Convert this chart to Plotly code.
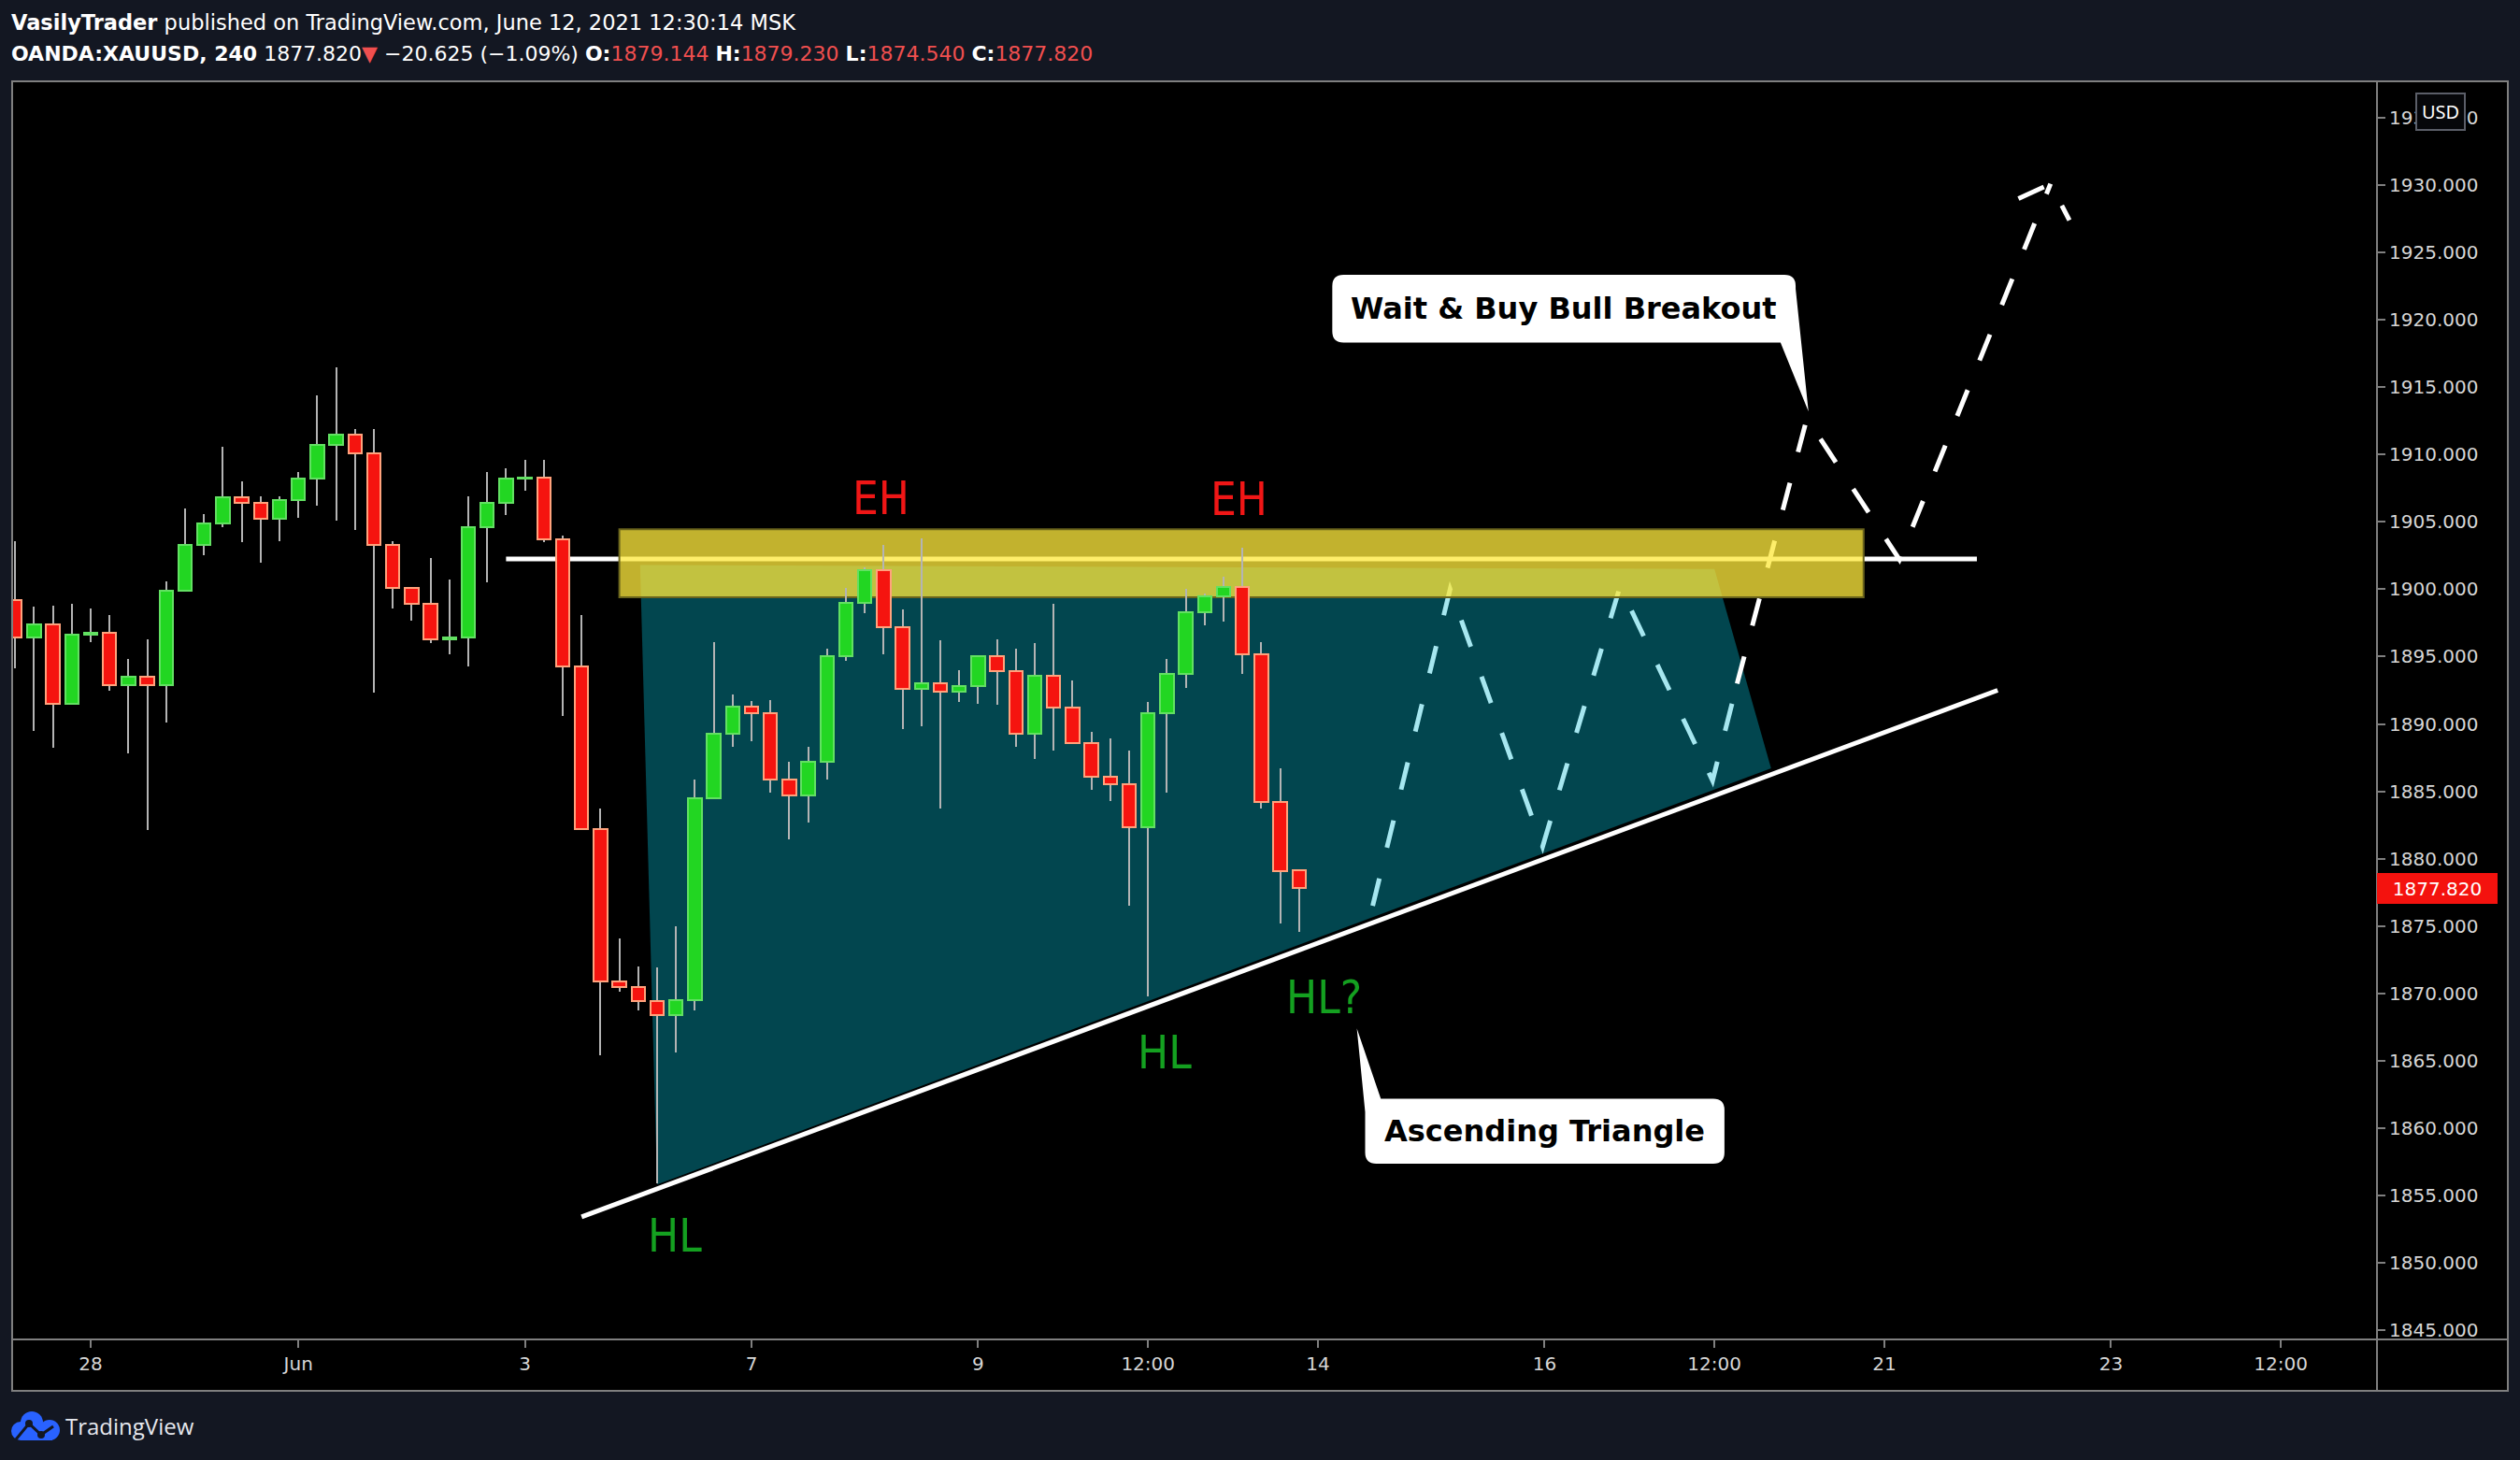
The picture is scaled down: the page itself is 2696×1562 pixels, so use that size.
import plotly.graph_objects as go

# ---------------- data ----------------
bars = list(range(69))
opens = [1899.2, 1896.4, 1897.4, 1891.5, 1896.6, 1896.8, 1892.9, 1893.5, 1892.9, 1899.9,
         1903.3, 1904.9, 1906.8, 1906.4, 1905.2, 1906.6, 1908.2, 1910.7, 1911.5, 1910.1,
         1903.3, 1900.1, 1898.9, 1896.3, 1896.4, 1904.6, 1906.4, 1908.2, 1908.3, 1903.7,
         1894.3, 1882.2, 1870.9, 1870.5, 1869.4, 1868.4, 1869.5, 1884.5, 1889.3, 1891.3,
         1890.8, 1885.9, 1884.7, 1887.2, 1895.0, 1899.0, 1901.4, 1897.2, 1892.6, 1893.0,
         1892.4, 1892.8, 1895.0, 1893.9, 1889.3, 1893.6, 1891.2, 1888.6, 1886.1, 1885.5,
         1882.3, 1890.8, 1893.7, 1898.3, 1899.5, 1900.2, 1895.2, 1884.2, 1879.144]
highs = [1903.6, 1898.7, 1898.8, 1898.9, 1898.6, 1898.1, 1894.8, 1896.3, 1900.6, 1906.0,
         1905.6, 1910.6, 1908.0, 1906.9, 1906.9, 1908.7, 1914.4, 1916.5, 1911.9, 1911.9,
         1903.6, 1900.2, 1902.3, 1900.7, 1906.9, 1908.7, 1909.0, 1909.6, 1909.6, 1904.0,
         1898.1, 1883.7, 1874.1, 1872.0, 1871.9, 1875.0, 1885.9, 1896.1, 1892.2, 1891.7,
         1891.8, 1887.2, 1888.3, 1895.6, 1900.1, 1901.6, 1903.3, 1898.5, 1903.8, 1896.2,
         1894.0, 1895.1, 1896.3, 1895.6, 1896.0, 1898.9, 1893.2, 1889.4, 1888.9, 1888.0,
         1891.6, 1894.8, 1900.0, 1899.7, 1900.9, 1903.1, 1896.1, 1886.7, 1879.23]
lows = [1894.1, 1889.5, 1888.2, 1891.4, 1896.1, 1892.5, 1887.8, 1882.1, 1890.1, 1899.8,
        1902.5, 1904.6, 1903.5, 1902.0, 1903.6, 1905.3, 1906.2, 1905.1, 1904.4, 1892.3,
        1898.6, 1897.7, 1896.0, 1895.2, 1894.3, 1900.5, 1905.5, 1907.3, 1903.5, 1890.6,
        1882.1, 1865.4, 1870.1, 1868.7, 1855.9, 1865.6, 1868.7, 1884.4, 1888.3, 1888.7,
        1884.9, 1881.4, 1882.7, 1885.9, 1894.7, 1898.2, 1895.2, 1889.6, 1889.8, 1883.7,
        1891.6, 1891.5, 1891.4, 1888.3, 1887.4, 1888.0, 1888.5, 1885.1, 1884.3, 1876.5,
        1869.8, 1884.9, 1892.7, 1897.3, 1897.6, 1893.7, 1883.7, 1875.2, 1874.54]
closes = [1896.4, 1897.4, 1891.5, 1896.6, 1896.8, 1892.9, 1893.5, 1892.9, 1899.9, 1903.3,
          1904.9, 1906.8, 1906.4, 1905.2, 1906.6, 1908.2, 1910.7, 1911.5, 1910.1, 1903.3,
          1900.1, 1898.9, 1896.3, 1896.4, 1904.6, 1906.4, 1908.2, 1908.3, 1903.7, 1894.3,
          1882.2, 1870.9, 1870.5, 1869.4, 1868.4, 1869.5, 1884.5, 1889.3, 1891.3, 1890.8,
          1885.9, 1884.7, 1887.2, 1895.0, 1899.0, 1901.4, 1897.2, 1892.6, 1893.0, 1892.4,
          1892.8, 1895.0, 1893.9, 1889.3, 1893.6, 1891.2, 1888.6, 1886.1, 1885.5, 1882.3,
          1890.8, 1893.7, 1898.3, 1899.5, 1900.2, 1895.2, 1884.2, 1879.1, 1877.82]

tick_bars = [4, 15, 27, 39, 51, 60, 69, 81, 90, 99, 111, 120]
tick_labels = ["28", "Jun", "3", "7", "9", "12:00", "14", "16", "12:00", "21", "23", "12:00"]
price_ticks = [1845, 1850, 1855, 1860, 1865, 1870, 1875, 1880, 1885, 1890,
               1895, 1900, 1905, 1910, 1915, 1920, 1925, 1930, 1935]
last_price = 1877.82

# drawings (bar index, price)
resist_x = [26.0, 103.9]
resist_y = [1902.25, 1902.25]
zone_x = [32.0, 97.9]
zone_y = [1899.4, 1904.45]
trend_x = [30.0, 105.0]
trend_y = [1853.4, 1892.5]
tri_x = [33.1, 90.0, 93.0, 34.0]
tri_y = [1901.8, 1901.5, 1886.7, 1855.8]
cyan_x = [71.9, 76.0, 80.9, 85.0, 89.9, 91.2]
cyan_y = [1876.5, 1900.0, 1880.9, 1900.2, 1885.8, 1893.0]
path_x = [91.2, 94.9, 99.8, 107.8]
path_y = [1893.0, 1912.7, 1902.2, 1930.1]
arrow_x = [106.1, 107.8, 108.8]
arrow_y = [1929.0, 1930.1, 1927.4]

labels = ["EH", "EH", "HL", "HL", "HL?"]
label_x = [45.85, 64.82, 34.92, 60.88, 69.33]
label_y = [1906.76, 1906.64, 1851.97, 1865.56, 1869.7]
label_col = ["#f01616", "#f01616", "#14a020", "#14a020", "#14a020"]

callout_text = ["Wait & Buy Bull Breakout", "Ascending Triangle"]
# box: left, right (bar), bottom, top (price); tip (bar, price)
callout_box = [[69.76, 94.30, 1918.32, 1923.35], [71.50, 90.53, 1857.35, 1862.18]]
callout_tip = [[94.98, 1913.2], [71.06, 1867.4]]

# ---------------- geometry ----------------
W, H = 2696, 1562
PL, PR, PT, PB = 13, 2543, 87, 1433
FR, FB = 2683, 1488
X_RANGE = [-0.158, 125.09]
Y_RANGE = [1844.306, 1937.71]
XS = (PR - PL) / (X_RANGE[1] - X_RANGE[0])
YS = (PB - PT) / (Y_RANGE[1] - Y_RANGE[0])


def pxx(X):
    return (X - PL) / (PR - PL)


def pxy(Y):
    return (PB - Y) / (PB - PT)


UP_FILL, UP_LINE = "#22d622", "#62e062"
DN_FILL, DN_LINE = "#f5140f", "#ffa27c"
WICK = "#b4b4b4"
GREY = "#7f7f7f"

body_base = [min(o, c) for o, c in zip(opens, closes)]
body_h = [abs(c - o) for o, c in zip(opens, closes)]
up = [c >= o for o, c in zip(opens, closes)]

fig = go.Figure()
fig.add_trace(go.Bar(x=bars, base=lows, y=[h - l for h, l in zip(highs, lows)],
                     width=0.1, marker=dict(color=WICK, line=dict(width=0)),
                     hoverinfo="skip", showlegend=False))
fig.add_trace(go.Bar(x=bars, base=body_base, y=body_h, width=0.71,
                     marker=dict(color=[UP_FILL if u else DN_FILL for u in up],
                                 line=dict(color=[UP_LINE if u else DN_LINE for u in up], width=2)),
                     hoverinfo="skip", showlegend=False))

shapes = []
# black panels
shapes.append(dict(type="rect", xref="paper", yref="paper", x0=0, x1=pxx(FR), y0=pxy(FB), y1=1,
                   fillcolor="#000000", line=dict(width=0), layer="below"))


def poly(xs, ys):
    return "M " + " L ".join(f"{x},{y}" for x, y in zip(xs, ys))


# teal triangle area
shapes.append(dict(type="path", xref="x", yref="y", path=poly(tri_x, tri_y) + " Z",
                   fillcolor="#02464f", line=dict(width=0), layer="below"))
# horizontal resistance line
shapes.append(dict(type="line", xref="x", yref="y", x0=resist_x[0], x1=resist_x[1],
                   y0=resist_y[0], y1=resist_y[1], line=dict(color="#ffffff", width=5), layer="below"))
# ascending trendline
shapes.append(dict(type="line", xref="x", yref="y", x0=trend_x[0], x1=trend_x[1],
                   y0=trend_y[0], y1=trend_y[1], line=dict(color="#ffffff", width=5), layer="below"))
# cyan projection path
shapes.append(dict(type="path", xref="x", yref="y", path=poly(cyan_x, cyan_y),
                   line=dict(color="#a6e7f0", width=5, dash="30px,34px"), layer="below"))
# white breakout path with arrow head
shapes.append(dict(type="path", xref="x", yref="y", path=poly(path_x, path_y) + " " + poly(arrow_x, arrow_y),
                   line=dict(color="#ffffff", width=5, dash="30px,34px"), layer="below"))
# yellow zone
shapes.append(dict(type="rect", xref="x", yref="y", x0=zone_x[0], x1=zone_x[1], y0=zone_y[0], y1=zone_y[1],
                   fillcolor="rgba(254,233,60,0.765)", line=dict(color="#6a641c", width=2), layer="below"))

# callouts
rx, ry = 12 / XS, 12 / YS
b = callout_box[0]
t = callout_tip[0]
x0, x1, y0, y1 = b
p1 = (f"M {x0+rx},{y1} L {x1-rx},{y1} Q {x1},{y1} {x1},{y1-ry} "
      f"L {x1},{y1 - 1.05} L {t[0]},{t[1]} L {x1 - 0.8},{y0} "
      f"L {x0+rx},{y0} Q {x0},{y0} {x0},{y0+ry} L {x0},{y1-ry} Q {x0},{y1} {x0+rx},{y1} Z")
b = callout_box[1]
t = callout_tip[1]
x0, x1, y0, y1 = b
p2 = (f"M {x0 + 0.83},{y1} L {x1-rx},{y1} Q {x1},{y1} {x1},{y1-ry} L {x1},{y0+ry} "
      f"Q {x1},{y0} {x1-rx},{y0} L {x0+rx},{y0} Q {x0},{y0} {x0},{y0+ry} "
      f"L {x0},{y1 - 1.0} L {t[0]},{t[1]} Z")
for p in (p1, p2):
    shapes.append(dict(type="path", xref="x", yref="y", path=p, fillcolor="#ffffff",
                       line=dict(width=0), layer="above"))

# frame lines
fl = dict(color=GREY, width=2)
shapes.append(dict(type="rect", xref="paper", yref="paper", x0=0, x1=pxx(FR), y0=pxy(FB), y1=1,
                   line=fl, layer="above"))
shapes.append(dict(type="line", xref="paper", yref="paper", x0=1, x1=1, y0=pxy(FB), y1=1, line=fl, layer="above"))
shapes.append(dict(type="line", xref="paper", yref="paper", x0=0, x1=pxx(FR), y0=0, y1=0, line=fl, layer="above"))

# TradingView logo (cloud)
BLUE = "#2962ff"
for cx, cy, r in [(22, 1531, 10), (34, 1522, 12), (53, 1530, 11)]:
    shapes.append(dict(type="circle", xref="paper", yref="paper", x0=pxx(cx - r), x1=pxx(cx + r),
                       y0=pxy(cy + r), y1=pxy(cy - r), fillcolor=BLUE, line=dict(width=0), layer="above"))
shapes.append(dict(type="rect", xref="paper", yref="paper", x0=pxx(22), x1=pxx(56), y0=pxy(1541), y1=pxy(1526),
                   fillcolor=BLUE, line=dict(width=0), layer="above"))
shapes.append(dict(type="path", xref="paper", yref="paper",
                   path=f"M {pxx(17)},{pxy(1540)} L {pxx(31)},{pxy(1523)} L {pxx(44)},{pxy(1535)} L {pxx(57)},{pxy(1526)}",
                   line=dict(color="#131722", width=3), layer="above"))
for cx, cy in [(31, 1523), (44, 1535)]:
    shapes.append(dict(type="circle", xref="paper", yref="paper", x0=pxx(cx - 4), x1=pxx(cx + 4),
                       y0=pxy(cy + 4), y1=pxy(cy - 4), fillcolor="#131722", line=dict(width=0), layer="above"))

annotations = []
FONT = "DejaVu Sans, Verdana, sans-serif"
# header
RED_T = "#f04f4f"
annotations.append(dict(xref="paper", yref="paper", x=pxx(10), y=pxy(24), xanchor="left", yanchor="middle",
                        showarrow=False, font=dict(family=FONT, size=22.5, color="#ffffff"),
                        text="<b>VasilyTrader</b> published on TradingView.com, June 12, 2021 12:30:14 MSK"))
line2 = ("<b>OANDA:XAUUSD, 240</b> 1877.820" + f"<span style='color:{RED_T}'>▼</span>"
         + " −20.625 (−1.09%) <b>O:</b>" + f"<span style='color:{RED_T}'>1879.144</span>"
         + " <b>H:</b>" + f"<span style='color:{RED_T}'>1879.230</span>"
         + " <b>L:</b>" + f"<span style='color:{RED_T}'>1874.540</span>"
         + " <b>C:</b>" + f"<span style='color:{RED_T}'>1877.820</span>")
annotations.append(dict(xref="paper", yref="paper", x=pxx(10), y=pxy(57), xanchor="left", yanchor="middle",
                        showarrow=False, font=dict(family=FONT, size=22, color="#ffffff"), text=line2))

# pattern labels
LFONT = "Liberation Sans Narrow, DejaVu Sans Condensed, Roboto, sans-serif"
for txt, lx, ly, lc in zip(labels, label_x, label_y, label_col):
    annotations.append(dict(xref="x", yref="y", x=lx, y=ly, text=txt, showarrow=False,
                            xanchor="center", yanchor="middle", font=dict(family=LFONT, size=49, color=lc)))

# callout texts
for txt, b in zip(callout_text, callout_box):
    annotations.append(dict(xref="x", yref="y", x=(b[0] + b[1]) / 2, y=(b[2] + b[3]) / 2, text=f"<b>{txt}</b>",
                            showarrow=False, xanchor="center", yanchor="middle",
                            font=dict(family=FONT, size=32, color="#000000")))

# last price label
annotations.append(dict(xref="paper", yref="y", x=1.0, y=last_price, xanchor="left", yanchor="middle",
                        text=f"{last_price:.3f}", showarrow=False, bgcolor="#f4120e", borderwidth=0,
                        borderpad=0, width=129, height=33, align="center",
                        font=dict(family=FONT, size=20, color="#ffffff")))
# USD badge
annotations.append(dict(xref="paper", yref="paper", x=pxx(2611), y=pxy(119), xanchor="center", yanchor="middle",
                        text="USD", showarrow=False, bgcolor="#06070a", bordercolor="#5b5e68", borderwidth=2,
                        borderpad=5, font=dict(family="Noto Sans, DejaVu Sans", size=20, color="#ffffff")))
# footer
annotations.append(dict(xref="paper", yref="paper", x=pxx(68), y=pxy(1525), xanchor="left", yanchor="middle",
                        text="TradingView", showarrow=False,
                        font=dict(family="Open Sans, Noto Sans, sans-serif", size=24, color="#e6e8ee")))

fig.update_layout(
    width=W, height=H,
    margin=dict(l=PL, r=W - PR, t=PT, b=H - PB, pad=0),
    paper_bgcolor="#131722", plot_bgcolor="#000000",
    barmode="overlay", bargap=0, showlegend=False,
    shapes=shapes, annotations=annotations,
    xaxis=dict(range=X_RANGE, showgrid=False, zeroline=False, showline=False,
               tickmode="array", tickvals=tick_bars, ticktext=tick_labels,
               ticks="outside", ticklen=8, tickwidth=1.5, tickcolor=GREY,
               tickfont=dict(family=FONT, size=20, color="#d6d6d6"), fixedrange=True),
    yaxis=dict(range=Y_RANGE, side="right", showgrid=False, zeroline=False, showline=False,
               tickmode="array", tickvals=price_ticks, ticktext=[f"{v:.3f}" for v in price_ticks],
               ticks="outside", ticklen=8, tickwidth=1.5, tickcolor=GREY,
               tickfont=dict(family=FONT, size=20, color="#d6d6d6"), fixedrange=True),
)

page_fix = ("document.body.style.margin='0';document.body.style.padding='0';"
            "document.body.style.background='#131722';document.body.style.overflow='hidden';")
fig.write_html("out.html", post_script=page_fix, config={"displayModeBar": False})
